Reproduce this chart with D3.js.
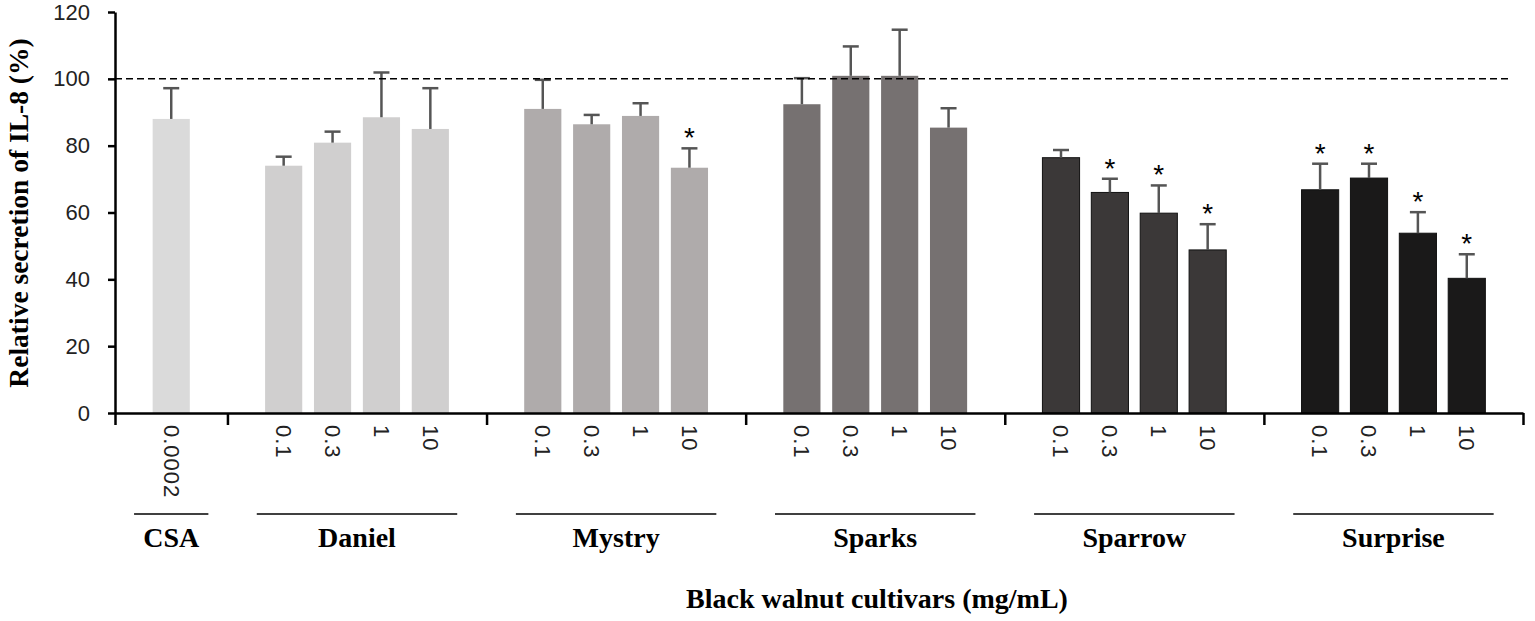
<!DOCTYPE html>
<html>
<head>
<meta charset="utf-8">
<script src="https://cdn.jsdelivr.net/npm/d3@7"></script>
<style>
  body { margin: 0; background: #fff; }
  svg { display: block; }
</style>
</head>
<body>
<div id="chart"></div>
<script>
// data
var groups = ["CSA", "Daniel", "Mystry", "Sparks", "Sparrow", "Surprise"];
var doses = [
    ["0.0002"],
    ["0.1", "0.3", "1", "10"],
    ["0.1", "0.3", "1", "10"],
    ["0.1", "0.3", "1", "10"],
    ["0.1", "0.3", "1", "10"],
    ["0.1", "0.3", "1", "10"]
];
var means = [
    [88.0],
    [74.0, 80.9, 88.5, 85.0],
    [91.0, 86.4, 88.9, 73.4],
    [92.4, 100.9, 100.9, 85.4],
    [76.4, 66.0, 59.8, 48.8],
    [66.8, 70.3, 53.8, 40.3]
];
var errors = [
    [9.2],
    [2.7, 3.3, 13.4, 12.2],
    [8.7, 2.8, 3.8, 5.8],
    [7.8, 8.8, 13.8, 5.8],
    [2.3, 4.1, 8.3, 7.7],
    [7.8, 4.3, 6.3, 7.2]
];
var signif = [
    [0],
    [0, 0, 0, 0],
    [0, 0, 0, 1],
    [0, 0, 0, 0],
    [0, 1, 1, 1],
    [1, 1, 1, 1]
];
var yTicks = [0, 20, 40, 60, 80, 100, 120];
var groupColors = ["#dadada", "#d0cfcf", "#afabab", "#767171", "#3b3838", "#1a1919"];

var width = 1535;
height = 621;
margin = { top: 12, left: 115, right: 12, bottom: 208 };

var pad = 0.65; // empty space at each side of a group, in bar steps
var barFrac = 0.76;

// position of every bar in "step" units
var bars = [];
var groupSpans = [];
var u = 0;
groups.forEach(function (g, gi) {
    var start = u;
    u += pad;
    doses[gi].forEach(function (d, di) {
        bars.push({
            group: g, gi: gi, dose: d,
            pos: u + 0.5,
            value: means[gi][di],
            err: errors[gi][di],
            sig: signif[gi][di]
        });
        u += 1;
    });
    u += pad;
    groupSpans.push({ name: g, n: doses[gi].length, start: start, end: u });
});
var totalUnits = u;

var x = d3.scaleLinear()
    .domain([0, totalUnits])
    .range([margin.left, width - margin.right]);

var y = d3.scaleLinear()
    .domain([0, 120])
    .range([height - margin.bottom, margin.top]);

var step = x(1) - x(0);

var svg = d3.select("#chart")
    .append("svg")
    .attr("width", width)
    .attr("height", height);

// bars
svg.append("g")
    .selectAll("rect")
    .data(bars)
    .join("rect")
    .attr("x", function (d) { return x(d.pos) - step * barFrac / 2; })
    .attr("y", function (d) { return y(d.value); })
    .attr("width", step * barFrac)
    .attr("height", function (d) { return y(0) - y(d.value); })
    .attr("fill", function (d) { return groupColors[d.gi]; })
    .attr("stroke", function (d) { return d.gi >= 4 ? "#111" : "none"; })
    .attr("stroke-width", 1);

// error bars (upper only)
var errG = svg.append("g")
    .attr("stroke", "#555")
    .attr("stroke-width", 2.5);

errG.selectAll("line.stem")
    .data(bars)
    .join("line")
    .attr("class", "stem")
    .attr("x1", function (d) { return x(d.pos); })
    .attr("x2", function (d) { return x(d.pos); })
    .attr("y1", function (d) { return y(d.value); })
    .attr("y2", function (d) { return y(d.value + d.err); });

errG.selectAll("line.cap")
    .data(bars)
    .join("line")
    .attr("class", "cap")
    .attr("x1", function (d) { return x(d.pos) - 8; })
    .attr("x2", function (d) { return x(d.pos) + 8; })
    .attr("y1", function (d) { return y(d.value + d.err); })
    .attr("y2", function (d) { return y(d.value + d.err); });

// significance stars
svg.append("g")
    .selectAll("text")
    .data(bars.filter(function (d) { return d.sig; }))
    .join("text")
    .attr("x", function (d) { return x(d.pos); })
    .attr("y", function (d) { return y(d.value + d.err) - 1; })
    .attr("text-anchor", "middle")
    .style("font-family", "'Liberation Sans', Arial, sans-serif")
    .style("font-size", "28px")
    .style("fill", "#000")
    .text("*");

// reference line at 100 %
svg.append("line")
    .attr("x1", x(0))
    .attr("x2", 1508)
    .attr("y1", y(100))
    .attr("y2", y(100))
    .attr("stroke", "#000")
    .attr("stroke-width", 1.5)
    .attr("stroke-dasharray", "7,4");

// y axis
var yAxis = svg.append("g")
    .attr("transform", "translate(" + margin.left + ",0)")
    .call(d3.axisLeft(y)
        .tickValues(yTicks)
        .tickSize(7)
        .tickSizeOuter(0)
        .tickPadding(18));

yAxis.selectAll("path, line")
    .attr("stroke", "#000")
    .attr("stroke-width", 2.5);
yAxis.selectAll("text")
    .style("font-family", "'Liberation Sans', Arial, sans-serif")
    .style("font-size", "22px")
    .style("fill", "#222");

// x axis with ticks at the group boundaries
var bounds = [0].concat(groupSpans.map(function (g) { return g.end; }));
var xAxis = svg.append("g")
    .attr("transform", "translate(0," + y(0) + ")")
    .call(d3.axisBottom(x)
        .tickValues(bounds)
        .tickSize(12)
        .tickSizeOuter(0)
        .tickFormat(""));

xAxis.selectAll("path, line")
    .attr("stroke", "#000")
    .attr("stroke-width", 2.5);

// dose labels, rotated
svg.append("g")
    .selectAll("text")
    .data(bars)
    .join("text")
    .attr("transform", function (d) {
        return "translate(" + x(d.pos) + "," + (y(0) + 12) + ") rotate(90)";
    })
    .attr("dy", "0.35em")
    .attr("text-anchor", "start")
    .style("font-family", "'Liberation Sans', Arial, sans-serif")
    .style("font-size", "22px")
    .style("letter-spacing", "1px")
    .style("fill", "#222")
    .text(function (d) { return d.dose; });

// group underlines and names
var gLab = svg.append("g");
gLab.selectAll("line")
    .data(groupSpans)
    .join("line")
    .attr("x1", function (d) { return x(d.start) + (d.n > 1 ? 0.6 : 0.39) * step; })
    .attr("x2", function (d) { return x(d.end) - (d.n > 1 ? 0.6 : 0.39) * step; })
    .attr("y1", 514)
    .attr("y2", 514)
    .attr("stroke", "#000")
    .attr("stroke-width", 1.5);

gLab.selectAll("text")
    .data(groupSpans)
    .join("text")
    .attr("x", function (d) { return x((d.start + d.end) / 2); })
    .attr("y", 547)
    .attr("text-anchor", "middle")
    .style("font-family", "'Liberation Serif', 'Times New Roman', serif")
    .style("font-weight", "bold")
    .style("font-size", "28px")
    .style("fill", "#000")
    .text(function (d) { return d.name; });

// axis titles
svg.append("text")
    .attr("x", 877)
    .attr("y", 608)
    .attr("text-anchor", "middle")
    .style("font-family", "'Liberation Serif', 'Times New Roman', serif")
    .style("font-weight", "bold")
    .style("font-size", "28px")
    .style("fill", "#000")
    .text("Black walnut cultivars (mg/mL)");

svg.append("text")
    .attr("transform", "translate(28,213) rotate(-90)")
    .attr("text-anchor", "middle")
    .style("font-family", "'Liberation Serif', 'Times New Roman', serif")
    .style("font-weight", "bold")
    .style("font-size", "27.5px")
    .style("fill", "#000")
    .text("Relative secretion of IL-8 (%)");
</script>
</body>
</html>
